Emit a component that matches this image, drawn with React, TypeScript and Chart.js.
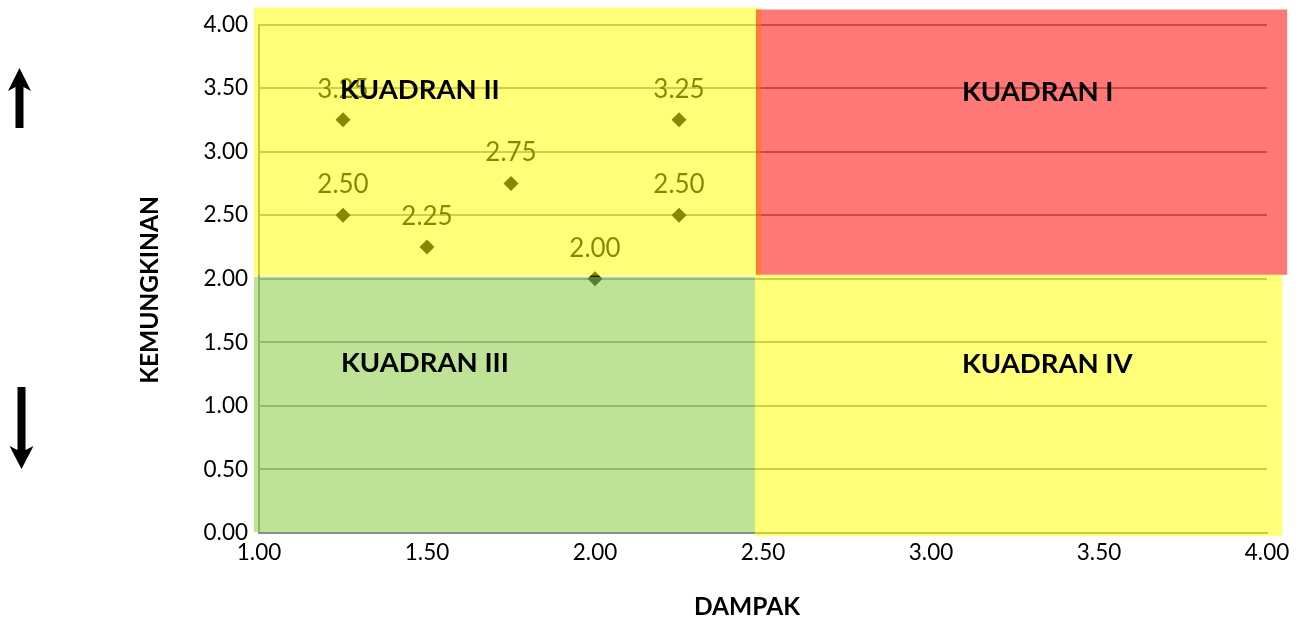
import { useEffect, useRef } from 'react';
import { Chart, registerables } from 'chart.js';

Chart.register(...registerables);

// ---- data ----
const dampak = [1.25, 2.25, 1.75, 1.25, 2.25, 1.5, 2.0];
const kemungkinan = [3.25, 3.25, 2.75, 2.5, 2.5, 2.25, 2.0];
const xTickValues = [1, 1.5, 2, 2.5, 3, 3.5, 4];
const yTickValues = [0, 0.5, 1, 1.5, 2, 2.5, 3, 3.5, 4];

const xTitle = 'DAMPAK';
const yTitle = 'KEMUNGKINAN';

// quadrant shapes (data coordinates), in draw order
const quadrantNames = ['KUADRAN II', 'KUADRAN I', 'KUADRAN III', 'KUADRAN IV'];
const quadrantXMin = [0.985, 2.479, 0.985, 2.476];
const quadrantXMax = [2.494, 4.06, 2.476, 4.045];
const quadrantYMin = [2.024, 2.031, 0.008, -0.024];
const quadrantYMax = [4.133, 4.118, 2.016, 2.031];
const quadrantFills = [
  'rgba(255,255,0,0.53)',
  'rgba(255,0,0,0.53)',
  'rgba(146,208,80,0.6)',
  'rgba(255,255,0,0.53)',
];
const quadrantLabelX = [1.241, 3.092, 1.244, 3.092];
const quadrantLabelY = [3.412, 3.396, 1.263, 1.255];

const FONT = 'Lato, "Open Sans", sans-serif';

const overlayPlugin = {
  id: 'overlay',
  afterDatasetsDraw(chart: any) {
    const { ctx, scales } = chart;
    const xs = scales.x;
    const ys = scales.y;
    const meta = chart.getDatasetMeta(0);
    ctx.save();
    // data labels
    ctx.font = `26px ${FONT}`;
    ctx.fillStyle = '#000';
    ctx.textAlign = 'center';
    ctx.textBaseline = 'alphabetic';
    meta.data.forEach((pt: any, i: number) => {
      ctx.fillText(kemungkinan[i].toFixed(2), pt.x, pt.y - 22);
    });
    // quadrant rectangles
    for (let i = 0; i < quadrantNames.length; i++) {
      const x0 = xs.getPixelForValue(quadrantXMin[i]);
      const x1 = xs.getPixelForValue(quadrantXMax[i]);
      const y0 = ys.getPixelForValue(quadrantYMax[i]);
      const y1 = ys.getPixelForValue(quadrantYMin[i]);
      ctx.fillStyle = quadrantFills[i];
      ctx.fillRect(x0, y0, x1 - x0, y1 - y0);
    }
    // quadrant names
    ctx.font = `bold 27.5px ${FONT}`;
    ctx.fillStyle = '#000';
    ctx.textAlign = 'left';
    for (let i = 0; i < quadrantNames.length; i++) {
      ctx.fillText(
        quadrantNames[i],
        xs.getPixelForValue(quadrantLabelX[i]),
        ys.getPixelForValue(quadrantLabelY[i])
      );
    }
    ctx.restore();
  },
  afterDraw(chart: any) {
    const { ctx } = chart;
    ctx.save();
    ctx.fillStyle = '#000';
    ctx.font = `bold 24.5px ${FONT}`;
    ctx.textAlign = 'center';
    ctx.textBaseline = 'middle';
    // x title
    ctx.fillText(xTitle, 747, 607);
    // y title
    ctx.save();
    ctx.translate(150, 290);
    ctx.rotate(-Math.PI / 2);
    ctx.fillText(yTitle, 0, 0);
    ctx.restore();
    // arrows
    ctx.beginPath();
    ctx.moveTo(19.5, 68);
    ctx.lineTo(31, 91);
    ctx.lineTo(23.5, 87);
    ctx.lineTo(23.5, 128);
    ctx.lineTo(15.5, 128);
    ctx.lineTo(15.5, 87);
    ctx.lineTo(8, 91);
    ctx.closePath();
    ctx.fill();
    ctx.beginPath();
    ctx.moveTo(21.5, 469);
    ctx.lineTo(33.5, 446);
    ctx.lineTo(25.5, 450);
    ctx.lineTo(25.5, 387);
    ctx.lineTo(17.5, 387);
    ctx.lineTo(17.5, 450);
    ctx.lineTo(9.5, 446);
    ctx.closePath();
    ctx.fill();
    ctx.restore();
  },
};

export default function App() {
  const ref = useRef<HTMLCanvasElement | null>(null);
  useEffect(() => {
    if (!ref.current) return;
    const chart = new Chart(ref.current, {
      type: 'scatter',
      data: {
        datasets: [
          {
            data: dampak.map((x, i) => ({ x, y: kemungkinan[i] })),
            pointStyle: 'rectRot',
            pointRadius: 7.5,
            pointHoverRadius: 7.5,
            backgroundColor: '#000',
            borderColor: '#000',
            borderWidth: 0,
          },
        ],
      },
      options: {
        responsive: false,
        animation: false,
        layout: { padding: { top: 23, right: 32, left: 0, bottom: 0 } },
        plugins: {
          legend: { display: false },
          tooltip: { enabled: false },
          title: { display: false },
        },
        scales: {
          x: {
            type: 'linear',
            min: 1,
            max: 4,
            afterBuildTicks: (s: any) => {
              s.ticks = xTickValues.map((value) => ({ value }));
            },
            afterFit: (s: any) => {
              s.height = 89;
            },
            ticks: {
              callback: (v: any) => Number(v).toFixed(2),
              font: { family: FONT, size: 22.5 },
              color: '#000',
              padding: 6,
              maxRotation: 0,
            },
            grid: { display: false, drawTicks: false },
            border: { display: true, color: '#8c8c8c', width: 2 },
          },
          y: {
            type: 'linear',
            min: 0,
            max: 4,
            afterBuildTicks: (s: any) => {
              s.ticks = yTickValues.map((value) => ({ value }));
            },
            afterFit: (s: any) => {
              s.width = 259;
            },
            ticks: {
              callback: (v: any) => Number(v).toFixed(2),
              font: { family: FONT, size: 22.5 },
              color: '#000',
              padding: 11,
            },
            grid: { color: '#999999', lineWidth: 2, drawTicks: false },
            border: { display: true, color: '#8c8c8c', width: 2 },
          },
        },
      },
      plugins: [overlayPlugin],
    });
    return () => chart.destroy();
  }, []);
  return (
    <div style={{ position: 'fixed', left: 0, top: 0, width: 1299, height: 622, background: '#fff' }}>
      <canvas ref={ref} width={1299} height={622} style={{ display: 'block' }} />
    </div>
  );
}
